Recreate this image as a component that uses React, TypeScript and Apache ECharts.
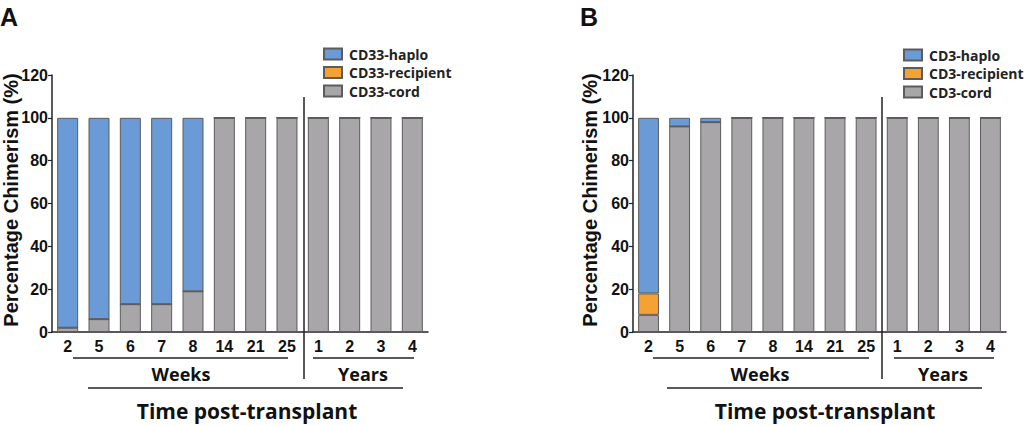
import React, { useEffect, useRef } from "react";
import * as echarts from "echarts";

const categories = ["2", "5", "6", "7", "8", "14", "21", "25", "1", "2", "3", "4"];
const yTicks = [0, 20, 40, 60, 80, 100, 120];

// Panel A (CD33)
const aHaplo = [98, 94, 87, 87, 81, 0, 0, 0, 0, 0, 0, 0];
const aRecipient = [0, 0, 0, 0, 0, 0, 0, 0, 0, 0, 0, 0];
const aCord = [2, 6, 13, 13, 19, 100, 100, 100, 100, 100, 100, 100];

// Panel B (CD3)
const bHaplo = [82, 4, 2, 0, 0, 0, 0, 0, 0, 0, 0, 0];
const bRecipient = [10, 0, 0, 0, 0, 0, 0, 0, 0, 0, 0, 0];
const bCord = [8, 96, 98, 100, 100, 100, 100, 100, 100, 100, 100, 100];

const aNames = ["CD33-haplo", "CD33-recipient", "CD33-cord"];
const bNames = ["CD3-haplo", "CD3-recipient", "CD3-cord"];

const BLUE = "#6b9bd7";
const ORANGE = "#f5a235";
const GRAY = "#a8a6a9";
const BORDER = "#5c5c5c";
const NUMFONT = "Liberation Sans";
const TXTFONT = "Open Sans";

export default function App() {
  const ref = useRef<HTMLDivElement>(null);
  useEffect(() => {
    if (!ref.current) return;
    const chart = echarts.init(ref.current, null, { renderer: "svg" });

    const grids = [
      { left: 52, top: 75, width: 376, height: 257 },
      { left: 633, top: 75, width: 373, height: 257 },
    ];

    const xAxis = grids.map((_, i) => ({
      type: "category",
      gridIndex: i,
      data: categories,
      axisLine: { lineStyle: { color: "#222", width: 1.5 } },
      axisTick: { alignWithLabel: true, length: 4, lineStyle: { color: "#222", width: 1.2 } },
      axisLabel: {
        margin: 6,
        color: "#111",
        fontFamily: NUMFONT,
        fontWeight: "bold",
        fontSize: 16,
        interval: 0,
      },
    }));

    const yAxis = grids.map((_, i) => ({
      type: "value",
      gridIndex: i,
      min: yTicks[0],
      max: yTicks[yTicks.length - 1],
      interval: 20,
      splitLine: { show: false },
      axisLine: { show: true, lineStyle: { color: "#222", width: 1.5 } },
      axisTick: { show: true, length: 4, lineStyle: { color: "#222", width: 1.2 } },
      axisLabel: {
        margin: 4,
        color: "#111",
        fontFamily: NUMFONT,
        fontWeight: "bold",
        fontSize: 16,
      },
    }));

    const mk = (name: string, data: number[], color: string, idx: number) => ({
      name,
      type: "bar",
      stack: "s" + idx,
      xAxisIndex: idx,
      yAxisIndex: idx,
      data,
      barCategoryGap: "33%",
      itemStyle: { color, borderColor: BORDER, borderWidth: 1 },
    });

    const series = [
      mk(aNames[2], aCord, GRAY, 0),
      mk(aNames[1], aRecipient, ORANGE, 0),
      mk(aNames[0], aHaplo, BLUE, 0),
      mk(bNames[2], bCord, GRAY, 1),
      mk(bNames[1], bRecipient, ORANGE, 1),
      mk(bNames[0], bHaplo, BLUE, 1),
    ];

    const legendBase = {
      orient: "vertical",
      itemWidth: 18,
      itemHeight: 11,
      itemGap: 4.5,
      selectedMode: false,
      icon: "rect",
      textStyle: {
        fontFamily: TXTFONT,
        fontWeight: "bold",
        fontSize: 14,
        color: "#222",
        lineHeight: 14,
        padding: [0, 0, 0, 2],
      },
      padding: 0,
    };

    const lineStyle = { stroke: "#222", lineWidth: 1.5 };
    const txt = (x: number, y: number, text: string, size: number, font: string, rotation = 0) => ({
      type: "text",
      x,
      y,
      rotation,
      style: {
        text,
        fill: "#111",
        font: `bold ${size}px "${font}"`,
        textAlign: "center",
        textVerticalAlign: "middle",
      },
    });
    const ln = (x1: number, y1: number, x2: number, y2: number) => ({
      type: "line",
      shape: { x1, y1, x2, y2 },
      style: lineStyle,
    });

    const graphic = [
      // Panel letters
      { type: "text", x: 0, y: 4, style: { text: "A", fill: "#111", font: `bold 25px "${NUMFONT}"` } },
      { type: "text", x: 580, y: 4, style: { text: "B", fill: "#111", font: `bold 25px "${NUMFONT}"` } },
      // Y axis titles
      txt(11, 200, "Percentage Chimerism (%)", 20, NUMFONT, Math.PI / 2),
      txt(590, 200, "Percentage Chimerism (%)", 20, NUMFONT, Math.PI / 2),
      // Dividers
      ln(304, 97, 304, 379),
      ln(882, 97, 882, 379),
      // Panel A brackets
      ln(73, 358, 288, 358),
      ln(313, 358, 414, 358),
      ln(88, 388, 403, 388),
      txt(181, 374, "Weeks", 18, TXTFONT),
      txt(363, 374, "Years", 18, TXTFONT),
      txt(247, 411, "Time post-transplant", 21, TXTFONT),
      // Panel B brackets
      ln(653, 358, 869, 358),
      ln(894, 358, 994, 358),
      ln(667, 388, 982, 388),
      txt(760, 374, "Weeks", 18, TXTFONT),
      txt(943, 374, "Years", 18, TXTFONT),
      txt(825, 411, "Time post-transplant", 21, TXTFONT),
    ];

    chart.setOption({
      animation: false,
      backgroundColor: "#fff",
      grid: grids,
      xAxis,
      yAxis,
      series,
      legend: [
        { ...legendBase, left: 323, top: 47, data: aNames },
        { ...legendBase, left: 903, top: 48, data: bNames },
      ],
      graphic,
    });
    return () => chart.dispose();
  }, []);
  return (
    <div
      ref={ref}
      style={{ position: "fixed", left: 0, top: 0, width: 1024, height: 426, background: "#fff" }}
    />
  );
}
